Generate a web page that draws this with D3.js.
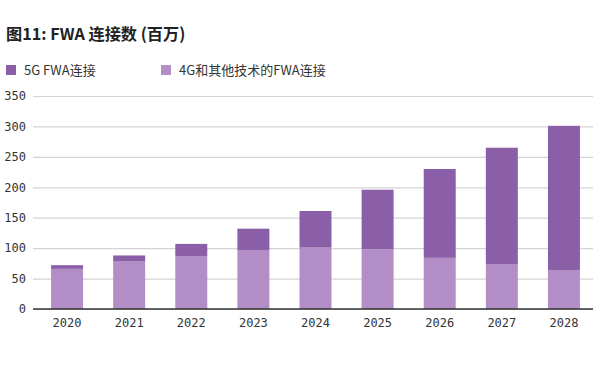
<!DOCTYPE html>
<html><head><meta charset="utf-8">
<script src="https://cdn.jsdelivr.net/npm/d3@7"></script>
<style>body{margin:0;background:#fff}svg{display:block}</style>
</head><body><svg id="c" width="600" height="372"></svg>
<script>
const years = ["2020","2021","2022","2023","2024","2025","2026","2027","2028"];
const fg4Other = [66, 78, 87, 97, 101, 98, 84, 73, 64];
const fg5 = [6, 10, 20, 35, 60, 98, 146, 192, 237];
const yTicks = [0, 50, 100, 150, 200, 250, 300, 350];
const seriesNames = ["5G FWA连接", "4G和其他技术的FWA连接"];
const colors = ["#8a5fa8", "#b38ec6"];
const title = "图11: FWA 连接数 (百万)";

const svg = d3.select("#c");
const cjk = "'Noto Sans CJK SC','Noto Sans',sans-serif";
const mono = "'DejaVu Sans Mono',monospace";

svg.append("text").attr("x", 6).attr("y", 39.5).text(title)
  .attr("font-family", cjk).attr("font-weight", "bold").attr("font-size", 16.2).attr("fill", "#222");

const legX = [6, 161];
seriesNames.forEach((n, i) => {
  svg.append("rect").attr("x", legX[i]).attr("y", 65).attr("width", 10).attr("height", 10).attr("fill", colors[i]);
  svg.append("text").attr("x", legX[i] + 18).attr("y", 74.5).text(n)
    .attr("font-family", cjk).attr("font-size", 13).attr("fill", "#333");
});

const y = d3.scaleLinear().domain([0, 350]).range([309, 96]);
const x = d3.scaleBand().domain(years).range([36, 595]).paddingInner(0.485).paddingOuter(0.2425);

// grid
const gy = svg.append("g").attr("transform", "translate(33,0)")
  .call(d3.axisLeft(y).tickValues(yTicks).tickSize(-560).tickPadding(7));
gy.select(".domain").remove();
gy.selectAll(".tick line").attr("stroke", "#d4d4d4").attr("stroke-width", 1.2);
gy.selectAll(".tick text").attr("font-family", mono).attr("font-size", 12).attr("fill", "#333");

const data = years.map((yr, i) => ({year: yr, b: fg4Other[i], t: fg5[i]}));
const stack = d3.stack().keys(["b", "t"])(data);
const fills = [colors[1], colors[0]];
svg.append("g").selectAll("g").data(stack).join("g").attr("fill", (d, i) => fills[i])
  .selectAll("rect").data(d => d).join("rect")
  .attr("x", d => x(d.data.year)).attr("width", x.bandwidth())
  .attr("y", d => y(d[1])).attr("height", d => y(d[0]) - y(d[1]));

const gx = svg.append("g").attr("transform", "translate(0,309)")
  .call(d3.axisBottom(x).tickSize(0).tickPadding(9));
gx.select(".domain").remove();
gx.selectAll(".tick text").attr("font-family", mono).attr("font-size", 12).attr("fill", "#333");
svg.append("line").attr("x1", 33).attr("x2", 593).attr("y1", y(0)).attr("y2", y(0))
  .attr("stroke", "#333").attr("stroke-width", 1.5);
</script></body></html>
